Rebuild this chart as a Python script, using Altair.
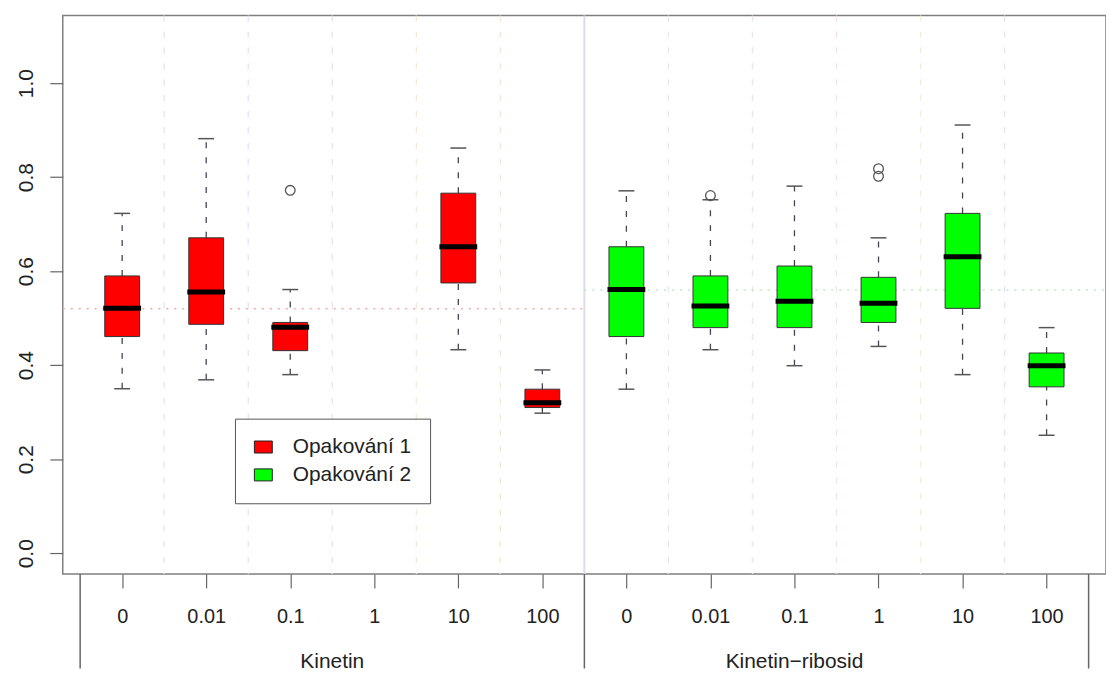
import json
import altair as alt
import pandas as pd

# ---------------- data ----------------
tick_labels = ["0", "0.01", "0.1", "1", "10", "100", "0", "0.01", "0.1", "1", "10", "100"]
tick_pos = list(range(1, 13))

slots = [1, 2, 3, 5, 6, 7, 8, 9, 10, 11, 12]
series = ["Opakování 1"] * 5 + ["Opakování 2"] * 6
whislo = [0.350, 0.369, 0.380, 0.433, 0.298, 0.349, 0.433, 0.399, 0.440, 0.380, 0.251]
q1 = [0.461, 0.487, 0.431, 0.575, 0.310, 0.461, 0.480, 0.480, 0.491, 0.521, 0.354]
med = [0.521, 0.556, 0.481, 0.652, 0.320, 0.561, 0.526, 0.536, 0.532, 0.631, 0.399]
q3 = [0.590, 0.671, 0.491, 0.766, 0.349, 0.652, 0.590, 0.611, 0.587, 0.723, 0.426]
whishi = [0.723, 0.882, 0.561, 0.862, 0.390, 0.771, 0.752, 0.781, 0.671, 0.911, 0.480]

out_slot = [3, 8, 10, 10]
out_val = [0.772, 0.761, 0.818, 0.802]

group_names = ["Kinetin", "Kinetin\u2212ribosid"]
group_label_x = [3.5, 9.0]
group_mean = [0.52, 0.56]
group_sep = [0.5, 6.5, 12.5]

grid_x = [1.5, 2.5, 3.5, 4.5, 5.5, 7.5, 8.5, 9.5, 10.5, 11.5]
grid_col = ["#e4e4f0", "#e4e4f0", "#e4e4f0", "#efead8", "#efead8",
            "#e8e8e8", "#f0e2e6", "#f0e2e6", "#efeed6", "#e4e4f0"]

series_names = ["Opakování 1", "Opakování 2"]
series_colors = ["#ff0000", "#00ff00"]

# ---------------- layout ----------------
x_dom = [0.293, 12.707]
y_dom = [-0.044, 1.144]
W, H = 1048, 561
FONT = "Liberation Sans"

xs = alt.Scale(domain=x_dom, nice=False, zero=False, padding=0)
ys = alt.Scale(domain=y_dom, nice=False, zero=False, padding=0)

x_axis = alt.Axis(values=tick_pos, labelExpr=json.dumps(tick_labels) + "[datum.value - 1]",
                  tickSize=14, tickColor="#666666", tickWidth=1.2, labelFontSize=20,
                  labelColor="#222222", labelFont=FONT, labelBaseline="top", labelAlign="center",
                  labelPadding=19, grid=False, domain=False, title=None)
y_axis = alt.Axis(values=[0, 0.2, 0.4, 0.6, 0.8, 1.0], format=".1f", labelAngle=270,
                  labelAlign="center", labelBaseline="alphabetic", tickSize=13,
                  tickColor="#666666", tickWidth=1.2, labelFontSize=21, labelColor="#222222",
                  labelFont=FONT, labelPadding=17, grid=False, domain=False, title=None)


def X(f):
    return alt.X(f + ":Q", scale=xs, axis=x_axis)


def Y(f):
    return alt.Y(f + ":Q", scale=ys, axis=y_axis)


box_df = pd.DataFrame(dict(slot=slots, lo=whislo, q1=q1, med=med, q3=q3, hi=whishi, series=series))
out_df = pd.DataFrame(dict(slot=out_slot, v=out_val))
grid_df = pd.DataFrame(dict(gx=grid_x, gc=grid_col))
ref_df = pd.DataFrame(dict(ry=group_mean, xa=[x_dom[0], 6.5], xb=[6.5, x_dom[1]],
                           rc=["#f7a8a8", "#b8f2b8"]))
sep_df = pd.DataFrame(dict(sx=group_sep))
mid_df = pd.DataFrame(dict(sx=[6.5]))
glab_df = pd.DataFrame(dict(gx=group_label_x, name=group_names))

grid = alt.Chart(grid_df).mark_rule(strokeDash=[6, 10], strokeWidth=1.3).encode(
    x=X("gx"), y=alt.value(0), y2=alt.value(H), color=alt.Color("gc:N", scale=None))

mid = alt.Chart(mid_df).mark_rule(color="#dcdcea", strokeWidth=2).encode(
    x=X("sx"), y=alt.value(0), y2=alt.value(H))

ref = alt.Chart(ref_df).mark_rule(strokeDash=[2, 6], strokeWidth=1.5).encode(
    x=X("xa"), x2="xb", y=Y("ry"), color=alt.Color("rc:N", scale=None))

base = alt.Chart(box_df)
wlo = base.mark_rule(strokeDash=[6, 9], strokeWidth=1.3, color="#444455").encode(
    x=X("slot"), y=Y("lo"), y2="q1")
whi = base.mark_rule(strokeDash=[6, 9], strokeWidth=1.3, color="#444455").encode(
    x=X("slot"), y=Y("q3"), y2="hi")
cap_lo = base.mark_tick(orient="horizontal", size=16, thickness=1.5, color="#555555", opacity=1).encode(
    x=X("slot"), y=Y("lo"))
cap_hi = base.mark_tick(orient="horizontal", size=16, thickness=1.5, color="#555555", opacity=1).encode(
    x=X("slot"), y=Y("hi"))

legend = alt.Legend(orient="none", legendX=173, legendY=405, title=None, fillColor="white",
                    strokeColor="#555555", padding=18, labelFontSize=21, labelFont=FONT,
                    labelColor="#222222", symbolType="M-1,-0.67L1,-0.67L1,0.67L-1,0.67Z",
                    symbolSize=324, symbolStrokeColor="#222222", symbolStrokeWidth=1,
                    symbolOpacity=1, labelOffset=19, rowPadding=6)

boxes = base.mark_bar(size=35, stroke="#333333", strokeWidth=1, opacity=1).encode(
    x=X("slot"), y=Y("q1"), y2="q3",
    color=alt.Color("series:N", scale=alt.Scale(domain=series_names, range=series_colors),
                    legend=legend))

medians = base.mark_tick(orient="horizontal", size=38, thickness=5, color="black", opacity=1).encode(
    x=X("slot"), y=Y("med"))

outl = alt.Chart(out_df).mark_point(shape="circle", filled=False, size=95, color="#555555",
                                    strokeWidth=1.3, opacity=1).encode(x=X("slot"), y=Y("v"))

seps = alt.Chart(sep_df).mark_rule(color="#666666", strokeWidth=1.5).encode(
    x=X("sx"), y=alt.value(H), y2=alt.value(H + 95))

glab = alt.Chart(glab_df).mark_text(fontSize=21, font=FONT, color="#222222", baseline="alphabetic",
                                    align="center").encode(
    x=X("gx"), y=alt.value(655), text="name:N")

chart = alt.layer(grid, mid, ref, wlo, whi, cap_lo, cap_hi, boxes, medians, outl, seps, glab).properties(
    width=W, height=H,
    padding={"left": 55, "top": 6, "right": 0, "bottom": 100},
    autosize=alt.AutoSizeParams(type="none"),
    background="white",
).configure_view(stroke="#7f7f7f", strokeWidth=1.5)

chart.save("out.html", embed_options={"renderer": "svg", "actions": False})
